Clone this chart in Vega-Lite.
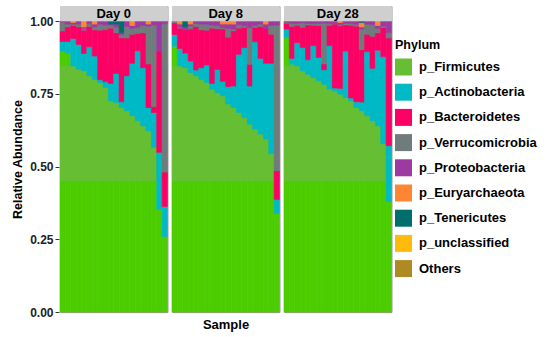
{
"$schema": "https://vega.github.io/schema/vega-lite/v6.json",
"padding": {"left": 11, "top": 5, "right": 5, "bottom": 3},
"background": "white",
"data": {"values": [
{"day":"Day 0","s":1,"p_Firmicutes":0.897,"p_Actinobacteria":0.033,"p_Bacteroidetes":0.036,"p_Verrucomicrobia":0.030,"p_Proteobacteria":0.004},
{"day":"Day 0","s":2,"p_Firmicutes":0.890,"p_Actinobacteria":0.040,"p_Bacteroidetes":0.050,"p_Verrucomicrobia":0.010,"p_Proteobacteria":0.010},
{"day":"Day 0","s":3,"p_Firmicutes":0.846,"p_Actinobacteria":0.094,"p_Bacteroidetes":0.045,"p_Verrucomicrobia":0.005,"p_Proteobacteria":0.005,"p_Euryarchaeota":0.005},
{"day":"Day 0","s":4,"p_Firmicutes":0.835,"p_Actinobacteria":0.085,"p_Bacteroidetes":0.060,"p_Verrucomicrobia":0.010,"p_Proteobacteria":0.010},
{"day":"Day 0","s":5,"p_Firmicutes":0.829,"p_Actinobacteria":0.060,"p_Bacteroidetes":0.080,"p_Verrucomicrobia":0.005,"p_Proteobacteria":0.006,"p_Euryarchaeota":0.020},
{"day":"Day 0","s":6,"p_Firmicutes":0.812,"p_Actinobacteria":0.100,"p_Bacteroidetes":0.070,"p_Verrucomicrobia":0.010,"p_Proteobacteria":0.008},
{"day":"Day 0","s":7,"p_Firmicutes":0.800,"p_Actinobacteria":0.080,"p_Bacteroidetes":0.090,"p_Verrucomicrobia":0.010,"p_Proteobacteria":0.010,"p_Euryarchaeota":0.010},
{"day":"Day 0","s":8,"p_Firmicutes":0.789,"p_Actinobacteria":0.010,"p_Bacteroidetes":0.170,"p_Verrucomicrobia":0.020,"p_Proteobacteria":0.011},
{"day":"Day 0","s":9,"p_Firmicutes":0.772,"p_Actinobacteria":0.020,"p_Bacteroidetes":0.180,"p_Verrucomicrobia":0.015,"p_Proteobacteria":0.013},
{"day":"Day 0","s":10,"p_Firmicutes":0.726,"p_Actinobacteria":0.060,"p_Bacteroidetes":0.190,"p_Verrucomicrobia":0.010,"p_Proteobacteria":0.004,"p_Tenericutes":0.010},
{"day":"Day 0","s":11,"p_Firmicutes":0.720,"p_Actinobacteria":0.100,"p_Bacteroidetes":0.140,"p_Verrucomicrobia":0.020,"p_Proteobacteria":0.010,"p_Tenericutes":0.010},
{"day":"Day 0","s":12,"p_Firmicutes":0.703,"p_Actinobacteria":0.020,"p_Bacteroidetes":0.220,"p_Verrucomicrobia":0.010,"p_Proteobacteria":0.007,"p_Tenericutes":0.040},
{"day":"Day 0","s":13,"p_Firmicutes":0.692,"p_Actinobacteria":0.120,"p_Bacteroidetes":0.130,"p_Verrucomicrobia":0.040,"p_Proteobacteria":0.018},
{"day":"Day 0","s":14,"p_Firmicutes":0.675,"p_Actinobacteria":0.180,"p_Bacteroidetes":0.100,"p_Verrucomicrobia":0.020,"p_Proteobacteria":0.010,"p_Euryarchaeota":0.015},
{"day":"Day 0","s":15,"p_Firmicutes":0.658,"p_Actinobacteria":0.240,"p_Bacteroidetes":0.060,"p_Verrucomicrobia":0.020,"p_Proteobacteria":0.022},
{"day":"Day 0","s":16,"p_Firmicutes":0.640,"p_Actinobacteria":0.200,"p_Bacteroidetes":0.120,"p_Verrucomicrobia":0.025,"p_Proteobacteria":0.015},
{"day":"Day 0","s":17,"p_Firmicutes":0.623,"p_Actinobacteria":0.080,"p_Bacteroidetes":0.150,"p_Verrucomicrobia":0.130,"p_Proteobacteria":0.007,"p_Euryarchaeota":0.010},
{"day":"Day 0","s":18,"p_Firmicutes":0.566,"p_Actinobacteria":0.120,"p_Bacteroidetes":0.020,"p_Verrucomicrobia":0.280,"p_Proteobacteria":0.014},
{"day":"Day 0","s":19,"p_Firmicutes":0.353,"p_Actinobacteria":0.196,"p_Bacteroidetes":0.348,"p_Proteobacteria":0.103},
{"day":"Day 0","s":20,"p_Firmicutes":0.260,"p_Actinobacteria":0.103,"p_Bacteroidetes":0.118,"p_Verrucomicrobia":0.510,"p_Proteobacteria":0.009},
{"day":"Day 8","s":1,"p_Firmicutes":0.914,"p_Actinobacteria":0.040,"p_Bacteroidetes":0.040,"p_Verrucomicrobia":0.006},
{"day":"Day 8","s":2,"p_Firmicutes":0.846,"p_Actinobacteria":0.060,"p_Bacteroidetes":0.070,"p_Verrucomicrobia":0.004,"p_Proteobacteria":0.010,"p_Euryarchaeota":0.010},
{"day":"Day 8","s":3,"p_Firmicutes":0.840,"p_Actinobacteria":0.050,"p_Bacteroidetes":0.080,"p_Proteobacteria":0.010,"p_Tenericutes":0.020},
{"day":"Day 8","s":4,"p_Firmicutes":0.823,"p_Actinobacteria":0.040,"p_Bacteroidetes":0.110,"p_Verrucomicrobia":0.010,"p_Proteobacteria":0.007,"p_Euryarchaeota":0.010},
{"day":"Day 8","s":5,"p_Firmicutes":0.812,"p_Actinobacteria":0.020,"p_Bacteroidetes":0.150,"p_Verrucomicrobia":0.010,"p_Proteobacteria":0.008},
{"day":"Day 8","s":6,"p_Firmicutes":0.800,"p_Actinobacteria":0.040,"p_Bacteroidetes":0.130,"p_Verrucomicrobia":0.020,"p_Proteobacteria":0.010},
{"day":"Day 8","s":7,"p_Firmicutes":0.789,"p_Actinobacteria":0.060,"p_Bacteroidetes":0.120,"p_Verrucomicrobia":0.020,"p_Proteobacteria":0.011},
{"day":"Day 8","s":8,"p_Firmicutes":0.766,"p_Actinobacteria":0.020,"p_Bacteroidetes":0.190,"p_Verrucomicrobia":0.010,"p_Proteobacteria":0.014},
{"day":"Day 8","s":9,"p_Firmicutes":0.754,"p_Actinobacteria":0.080,"p_Bacteroidetes":0.140,"p_Verrucomicrobia":0.010,"p_Proteobacteria":0.016},
{"day":"Day 8","s":10,"p_Firmicutes":0.743,"p_Actinobacteria":0.050,"p_Bacteroidetes":0.180,"p_Verrucomicrobia":0.005,"p_Proteobacteria":0.012,"p_Euryarchaeota":0.010},
{"day":"Day 8","s":11,"p_Firmicutes":0.715,"p_Actinobacteria":0.060,"p_Bacteroidetes":0.170,"p_Verrucomicrobia":0.030,"p_Proteobacteria":0.015,"p_Euryarchaeota":0.010},
{"day":"Day 8","s":12,"p_Firmicutes":0.703,"p_Actinobacteria":0.074,"p_Bacteroidetes":0.190,"p_Verrucomicrobia":0.005,"p_Proteobacteria":0.018,"p_Euryarchaeota":0.010},
{"day":"Day 8","s":13,"p_Firmicutes":0.686,"p_Actinobacteria":0.200,"p_Bacteroidetes":0.090,"p_Verrucomicrobia":0.012,"p_Proteobacteria":0.012},
{"day":"Day 8","s":14,"p_Firmicutes":0.669,"p_Actinobacteria":0.240,"p_Bacteroidetes":0.070,"p_Verrucomicrobia":0.006,"p_Proteobacteria":0.015},
{"day":"Day 8","s":15,"p_Firmicutes":0.646,"p_Actinobacteria":0.131,"p_Bacteroidetes":0.075,"p_Verrucomicrobia":0.125,"p_Proteobacteria":0.023},
{"day":"Day 8","s":16,"p_Firmicutes":0.629,"p_Actinobacteria":0.300,"p_Bacteroidetes":0.050,"p_Verrucomicrobia":0.006,"p_Proteobacteria":0.015},
{"day":"Day 8","s":17,"p_Firmicutes":0.612,"p_Actinobacteria":0.260,"p_Bacteroidetes":0.110,"p_Verrucomicrobia":0.008,"p_Proteobacteria":0.010},
{"day":"Day 8","s":18,"p_Firmicutes":0.595,"p_Actinobacteria":0.260,"p_Bacteroidetes":0.120,"p_Proteobacteria":0.015,"p_Euryarchaeota":0.010},
{"day":"Day 8","s":19,"p_Firmicutes":0.545,"p_Actinobacteria":0.310,"p_Bacteroidetes":0.100,"p_Verrucomicrobia":0.030,"p_Proteobacteria":0.015},
{"day":"Day 8","s":20,"p_Firmicutes":0.339,"p_Actinobacteria":0.048,"p_Bacteroidetes":0.099,"p_Verrucomicrobia":0.500,"p_Proteobacteria":0.014},
{"day":"Day 28","s":1,"p_Firmicutes":0.943,"p_Actinobacteria":0.030,"p_Bacteroidetes":0.020,"p_Verrucomicrobia":0.004,"p_Proteobacteria":0.003},
{"day":"Day 28","s":2,"p_Firmicutes":0.852,"p_Actinobacteria":0.020,"p_Bacteroidetes":0.110,"p_Verrucomicrobia":0.010,"p_Proteobacteria":0.008},
{"day":"Day 28","s":3,"p_Firmicutes":0.846,"p_Actinobacteria":0.080,"p_Bacteroidetes":0.060,"p_Verrucomicrobia":0.006,"p_Proteobacteria":0.008},
{"day":"Day 28","s":4,"p_Firmicutes":0.829,"p_Actinobacteria":0.080,"p_Bacteroidetes":0.070,"p_Verrucomicrobia":0.015,"p_Proteobacteria":0.006},
{"day":"Day 28","s":5,"p_Firmicutes":0.817,"p_Actinobacteria":0.050,"p_Bacteroidetes":0.120,"p_Verrucomicrobia":0.005,"p_Proteobacteria":0.008},
{"day":"Day 28","s":6,"p_Firmicutes":0.806,"p_Actinobacteria":0.110,"p_Bacteroidetes":0.070,"p_Verrucomicrobia":0.006,"p_Proteobacteria":0.008},
{"day":"Day 28","s":7,"p_Firmicutes":0.795,"p_Actinobacteria":0.080,"p_Bacteroidetes":0.110,"p_Verrucomicrobia":0.007,"p_Proteobacteria":0.008},
{"day":"Day 28","s":8,"p_Firmicutes":0.783,"p_Actinobacteria":0.050,"p_Bacteroidetes":0.020,"p_Verrucomicrobia":0.140,"p_Proteobacteria":0.007},
{"day":"Day 28","s":9,"p_Firmicutes":0.766,"p_Actinobacteria":0.150,"p_Bacteroidetes":0.070,"p_Verrucomicrobia":0.006,"p_Proteobacteria":0.008},
{"day":"Day 28","s":10,"p_Firmicutes":0.760,"p_Actinobacteria":0.010,"p_Bacteroidetes":0.220,"p_Verrucomicrobia":0.002,"p_Proteobacteria":0.008},
{"day":"Day 28","s":11,"p_Firmicutes":0.749,"p_Actinobacteria":0.020,"p_Bacteroidetes":0.215,"p_Verrucomicrobia":0.004,"p_Proteobacteria":0.007,"p_Euryarchaeota":0.005},
{"day":"Day 28","s":12,"p_Firmicutes":0.737,"p_Actinobacteria":0.160,"p_Bacteroidetes":0.090,"p_Verrucomicrobia":0.005,"p_Proteobacteria":0.008},
{"day":"Day 28","s":13,"p_Firmicutes":0.726,"p_Actinobacteria":0.010,"p_Bacteroidetes":0.250,"p_Verrucomicrobia":0.006,"p_Proteobacteria":0.008},
{"day":"Day 28","s":14,"p_Firmicutes":0.703,"p_Actinobacteria":0.020,"p_Bacteroidetes":0.260,"p_Verrucomicrobia":0.006,"p_Proteobacteria":0.011},
{"day":"Day 28","s":15,"p_Firmicutes":0.692,"p_Actinobacteria":0.030,"p_Bacteroidetes":0.180,"p_Verrucomicrobia":0.070,"p_Proteobacteria":0.008,"p_Euryarchaeota":0.015,"p_Tenericutes":0.005},
{"day":"Day 28","s":16,"p_Firmicutes":0.675,"p_Actinobacteria":0.220,"p_Bacteroidetes":0.060,"p_Verrucomicrobia":0.035,"p_Proteobacteria":0.010},
{"day":"Day 28","s":17,"p_Firmicutes":0.658,"p_Actinobacteria":0.180,"p_Bacteroidetes":0.110,"p_Verrucomicrobia":0.040,"p_Proteobacteria":0.012},
{"day":"Day 28","s":18,"p_Firmicutes":0.640,"p_Actinobacteria":0.260,"p_Bacteroidetes":0.060,"p_Verrucomicrobia":0.015,"p_Proteobacteria":0.010,"p_Euryarchaeota":0.015},
{"day":"Day 28","s":19,"p_Firmicutes":0.578,"p_Actinobacteria":0.300,"p_Bacteroidetes":0.100,"p_Verrucomicrobia":0.005,"p_Proteobacteria":0.017},
{"day":"Day 28","s":20,"p_Firmicutes":0.380,"p_Actinobacteria":0.192,"p_Bacteroidetes":0.370,"p_Verrucomicrobia":0.018,"p_Proteobacteria":0.040}
]},
"transform": [
{"fold": ["p_Firmicutes","p_Actinobacteria","p_Bacteroidetes","p_Verrucomicrobia","p_Proteobacteria","p_Euryarchaeota","p_Tenericutes","p_unclassified","Others"], "as": ["phylum","value"]},
{"filter": "isValid(datum.value) && datum.value > 0"},
{"stack": "value", "groupby": ["day","s"], "as": ["y0","y1"]}
],
"facet": {"column": {"field": "day", "type": "nominal", "sort": ["Day 0","Day 8","Day 28"], "title": "Sample",
  "header": {"labels": false, "titleOrient": "bottom", "titleFont": "Liberation Sans", "titleFontSize": 13, "titleFontWeight": "bold", "titleColor": "black", "titlePadding": -4}}},
"spacing": 2,
"spec": {
  "width": 107.5, "height": 306,
  "layer": [
    {"transform": [{"filter": "datum.phylum == 'p_Firmicutes'"}],
     "mark": {"type": "bar", "stroke": "#4ccd00", "strokeWidth": 0.7},
     "encoding": {
       "x": {"field": "s", "type": "ordinal", "axis": null},
       "y": {"field": "y0", "type": "quantitative", "title": "Relative Abundance",
             "scale": {"domain": [0, 1.052], "nice": false, "zero": true},
             "axis": {"values": [0, 0.25, 0.5, 0.75, 1], "format": ".2f", "grid": false, "domain": false}},
       "y2": {"field": "y1"},
       "color": {"value": "#4ccd00"}}},
    {"transform": [{"filter": "datum.phylum == 'p_Firmicutes' && datum.s == 1"}],
     "mark": {"type": "rect"},
     "encoding": {
       "y": {"datum": 0.45, "type": "quantitative", "title": "Relative Abundance"},
       "y2": {"datum": 0.846},
       "color": {"value": "#66bf33"}}},
    {"transform": [{"filter": "datum.phylum != 'p_Firmicutes'"}],
     "mark": {"type": "bar", "strokeWidth": 0.7},
     "encoding": {
       "x": {"field": "s", "type": "ordinal", "axis": null},
       "y": {"field": "y0", "type": "quantitative", "title": "Relative Abundance"},
       "y2": {"field": "y1"},
       "stroke": {"field": "phylum", "type": "nominal", "legend": null,
         "scale": {"domain": ["p_Firmicutes","p_Actinobacteria","p_Bacteroidetes","p_Verrucomicrobia","p_Proteobacteria","p_Euryarchaeota","p_Tenericutes","p_unclassified","Others"],
                   "range": ["#66bf33","#00b9c6","#fc0065","#707b7b","#9c3aa2","#ff8533","#006e6a","#ffbb0a","#ad8a22"]}},
       "color": {"field": "phylum", "type": "nominal",
         "scale": {"domain": ["p_Firmicutes","p_Actinobacteria","p_Bacteroidetes","p_Verrucomicrobia","p_Proteobacteria","p_Euryarchaeota","p_Tenericutes","p_unclassified","Others"],
                   "range": ["#66bf33","#00b9c6","#fc0065","#707b7b","#9c3aa2","#ff8533","#006e6a","#ffbb0a","#ad8a22"]},
         "legend": {"title": "Phylum", "orient": "none", "legendX": 335, "legendY": 33}}}},
    {"transform": [{"filter": "datum.phylum == 'p_Firmicutes' && datum.s == 1"}],
     "mark": {"type": "rect", "color": "#cfcfcf"},
     "encoding": {
       "y": {"datum": 1.0, "type": "quantitative", "title": "Relative Abundance"},
       "y2": {"datum": 1.052}}},
    {"transform": [{"filter": "datum.phylum == 'p_Firmicutes' && datum.s == 1"}],
     "mark": {"type": "text", "font": "Liberation Sans", "fontSize": 13, "fontWeight": "bold", "color": "black", "baseline": "middle"},
     "encoding": {
       "y": {"datum": 1.026, "type": "quantitative", "title": "Relative Abundance"},
       "text": {"field": "day"}}}
  ]
},
"config": {
  "font": "Liberation Sans",
  "view": {"stroke": "#9a9a9a", "strokeWidth": 1},
  "scale": {"bandPaddingInner": 0, "bandPaddingOuter": 0},
  "axisY": {"labelFont": "Liberation Sans", "labelFontSize": 12, "labelFontWeight": "bold", "labelColor": "#222222",
            "tickColor": "#333333", "tickSize": 4, "labelPadding": 2,
            "titleFont": "Liberation Sans", "titleFontSize": 12.5, "titleFontWeight": "bold", "titleColor": "black", "titlePadding": 5},
  "legend": {"symbolType": "square", "symbolSize": 289, "symbolStrokeWidth": 0, "symbolOpacity": 1,
             "labelFont": "Liberation Sans", "labelFontSize": 13, "labelFontWeight": "bold", "labelColor": "black", "labelOffset": 7,
             "titleFont": "Liberation Sans", "titleFontSize": 12.5, "titleFontWeight": "bold", "titleColor": "black", "titlePadding": 7,
             "rowPadding": 8.2}
}
}
